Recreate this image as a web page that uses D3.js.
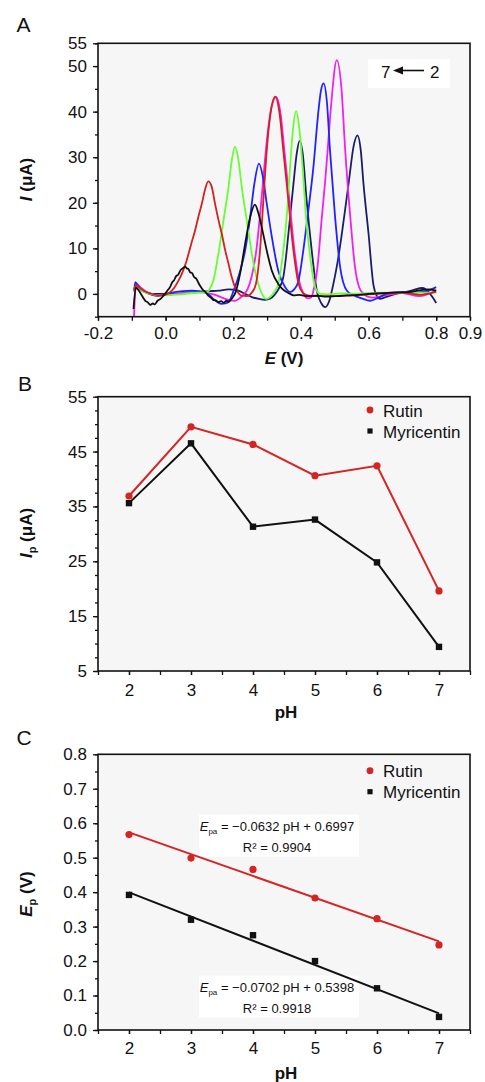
<!DOCTYPE html>
<html>
<head>
<meta charset="utf-8">
<script src="https://cdn.jsdelivr.net/npm/d3@7"></script>
<style>
  html, body { margin: 0; padding: 0; background: #fff; }
  svg { display: block; font-family: "Liberation Sans", Arial, sans-serif; }
</style>
</head>
<body>
<svg id="chart" width="485" height="1082"></svg>
<script>
'use strict';

/* global d3 */

// ---- data ----

// panel A: potential (V) / current (uA) curves, one per pH
var curvePH7 = [[-0.095,-3.3],[-0.088,1.4],[-0.08,0.8],[-0.07,-0.4],[-0.06,-1.5],[-0.052,-1.9],[-0.046,-2.4],[-0.038,-2.1],[-0.032,-2.3],[-0.024,-1.5],[-0.015,-1.1],[-0.008,-0.5],[-0.002,0.0],[0.007,0.9],[0.013,1.5],[0.02,2.6],[0.025,3.0],[0.031,3.9],[0.037,4.2],[0.045,5.3],[0.052,5.7],[0.057,6.0],[0.063,5.6],[0.068,5.4],[0.073,4.7],[0.078,4.6],[0.084,3.7],[0.09,3.4],[0.1,2.0],[0.11,0.9],[0.118,0.4],[0.126,-0.4],[0.134,-0.8],[0.14,-1.3],[0.148,-1.4],[0.156,-1.8],[0.164,-1.6],[0.172,-1.9],[0.18,-1.5],[0.186,-1.7],[0.197,-0.9],[0.207,0.4],[0.22,4.4],[0.235,11.0],[0.25,16.9],[0.264,19.6],[0.274,17.8],[0.284,14.7],[0.299,9.5],[0.314,5.1],[0.333,2.2],[0.345,1.1],[0.358,0.4],[0.368,0.0],[0.378,-0.3],[0.395,-0.2],[0.42,-0.5],[0.445,-0.4],[0.47,-0.6],[0.52,-0.4],[0.57,-0.2],[0.62,0.1],[0.67,0.3],[0.72,0.4],[0.75,0.8],[0.775,1.0],[0.8,0.7]];
var curvePH6 = [[-0.093,0.8],[-0.088,1.9],[-0.08,1.5],[-0.065,0.7],[-0.045,0.1],[-0.02,-0.3],[-0.002,-0.2],[0.013,0.4],[0.025,1.3],[0.038,2.9],[0.05,4.8],[0.062,7.3],[0.075,10.8],[0.087,13.9],[0.097,17.0],[0.107,19.8],[0.117,23.0],[0.126,24.7],[0.136,23.6],[0.146,19.8],[0.156,16.3],[0.166,13.2],[0.176,9.6],[0.186,6.6],[0.195,3.8],[0.205,1.5],[0.215,0.2],[0.225,-0.4],[0.24,-0.5],[0.255,0.3],[0.267,2.2],[0.279,9.5],[0.289,20.5],[0.299,31.5],[0.31,39.5],[0.324,43.3],[0.337,39.5],[0.348,31.5],[0.363,20.5],[0.378,9.5],[0.393,2.2],[0.405,0.3],[0.42,-0.3],[0.45,-0.5],[0.5,-0.5],[0.55,-0.3],[0.6,-0.1],[0.65,0.1],[0.7,0.3],[0.75,-0.2],[0.8,0.5]];
var curvePH5 = [[-0.093,0.6],[-0.088,1.7],[-0.08,1.3],[-0.065,0.5],[-0.045,0.0],[-0.02,-0.3],[0.0,-0.3],[0.04,-0.1],[0.08,0.2],[0.105,0.3],[0.122,0.4],[0.132,1.3],[0.141,2.9],[0.156,8.8],[0.171,16.1],[0.186,23.5],[0.196,29.5],[0.205,32.3],[0.215,29.5],[0.225,23.5],[0.24,16.1],[0.255,8.8],[0.265,4.8],[0.274,2.2],[0.285,0.0],[0.297,-1.1],[0.31,-0.6],[0.322,0.5],[0.333,2.2],[0.348,9.5],[0.358,16.9],[0.368,27.9],[0.377,36.5],[0.386,40.1],[0.395,36.5],[0.405,27.9],[0.415,16.9],[0.427,8.4],[0.442,1.5],[0.457,0.0],[0.48,-0.1],[0.52,0.1],[0.56,0.0],[0.6,0.2],[0.65,0.3],[0.7,0.2],[0.75,0.3],[0.8,0.3]];
var curvePH4 = [[-0.093,0.5],[-0.09,2.6],[-0.08,1.6],[-0.06,0.4],[-0.04,-0.2],[-0.022,-0.4],[0.0,0.0],[0.027,0.4],[0.05,0.6],[0.077,0.7],[0.1,0.6],[0.116,0.4],[0.13,-0.3],[0.141,-1.1],[0.155,-1.9],[0.166,-2.2],[0.176,-2.1],[0.186,-1.8],[0.195,-0.5],[0.2,0.5],[0.212,3.0],[0.224,6.0],[0.235,9.5],[0.25,16.9],[0.262,24.0],[0.276,28.6],[0.288,25.5],[0.299,19.8],[0.314,12.5],[0.333,5.1],[0.353,1.5],[0.368,0.4],[0.38,1.0],[0.393,2.9],[0.407,9.5],[0.422,18.3],[0.437,27.9],[0.452,40.3],[0.459,44.5],[0.467,46.2],[0.477,42.0],[0.486,31.5],[0.501,16.9],[0.516,5.9],[0.536,0.7],[0.556,-0.3],[0.58,-1.0],[0.605,-1.5],[0.63,-0.8],[0.66,0.2],[0.7,0.4],[0.74,0.3],[0.77,0.6],[0.8,1.5]];
var curvePH3 = [[-0.094,-6.0],[-0.09,0.5],[-0.086,2.2],[-0.075,1.5],[-0.06,0.6],[-0.04,-0.1],[-0.022,-0.4],[0.0,-0.2],[0.027,0.0],[0.06,0.3],[0.097,0.4],[0.136,0.0],[0.16,-0.6],[0.176,-1.1],[0.19,-1.4],[0.205,-1.5],[0.218,-1.0],[0.23,-0.2],[0.242,1.0],[0.255,4.0],[0.268,9.5],[0.28,18.0],[0.292,28.0],[0.302,35.5],[0.313,41.0],[0.327,43.2],[0.34,39.5],[0.351,31.5],[0.366,20.5],[0.381,9.5],[0.395,2.8],[0.408,0.0],[0.42,-1.0],[0.43,-0.8],[0.437,0.7],[0.449,5.9],[0.462,16.9],[0.472,25.0],[0.479,31.5],[0.49,42.0],[0.506,51.3],[0.52,45.0],[0.531,31.5],[0.546,16.9],[0.56,5.9],[0.572,1.5],[0.585,0.0],[0.61,-0.8],[0.65,-0.3],[0.7,0.2],[0.75,-0.5],[0.8,0.8]];
var curvePH2 = [[-0.093,0.6],[-0.09,1.8],[-0.08,1.2],[-0.06,0.4],[-0.04,0.0],[0.0,0.0],[0.027,0.0],[0.06,0.2],[0.097,0.4],[0.13,0.6],[0.156,0.7],[0.186,1.0],[0.215,0.7],[0.235,0.0],[0.255,-0.7],[0.276,-1.1],[0.294,-1.3],[0.31,-1.0],[0.322,-0.2],[0.335,1.2],[0.348,3.7],[0.355,7.5],[0.363,13.2],[0.378,24.2],[0.388,31.0],[0.396,33.6],[0.405,31.0],[0.417,20.5],[0.432,9.5],[0.447,0.7],[0.46,-2.0],[0.472,-2.9],[0.484,-1.5],[0.496,2.2],[0.508,6.8],[0.521,13.2],[0.541,24.2],[0.556,32.5],[0.567,34.8],[0.577,31.5],[0.585,24.2],[0.6,13.2],[0.614,2.2],[0.625,-0.5],[0.634,-1.1],[0.65,-0.7],[0.68,0.0],[0.71,0.4],[0.73,0.8],[0.76,1.3],[0.775,0.6],[0.79,-0.8],[0.8,-2.0]];

var potentialTickLabels = [-0.2, 0.0, 0.2, 0.4, 0.6, 0.8, 0.9];
var currentTickLabels = [0, 10, 20, 30, 40, 50, 55];
var arrowLabels = ['7', '2'];

// panels B and C
var phValues = [2, 3, 4, 5, 6, 7];
var seriesNames = ['Rutin', 'Myricentin'];
var rutinIp = [36.9, 49.5, 46.3, 40.6, 42.4, 19.6];
var myricentinIp = [35.6, 46.5, 31.3, 32.6, 24.8, 9.4];
var rutinEp = [0.567, 0.499, 0.466, 0.383, 0.323, 0.247];
var myricentinEp = [0.392, 0.320, 0.275, 0.200, 0.121, 0.038];
var fitSlopes = [-0.0632, -0.0702];
var fitIntercepts = [0.6997, 0.5398];
var fitR2 = [0.9904, 0.9918];

var ipTickLabels = [5, 15, 25, 35, 45, 55];
var epTickLabels = [0, 0.1, 0.2, 0.3, 0.4, 0.5, 0.6, 0.7, 0.8];

// ---- drawing ----

var svg = d3.select('#chart');
var RED = '#d42424';
var curves = [
  {data: curvePH2, color: '#1c1c6a'},
  {data: curvePH3, color: '#ee22ee'},
  {data: curvePH4, color: '#2222ff'},
  {data: curvePH5, color: '#66ff33'},
  {data: curvePH6, color: '#d42020'},
  {data: curvePH7, color: '#111111'}
];

function range(a, b, step) {
  var out = [];
  for (var i = 0; a + i * step <= b + 1e-9; i++) { out.push(+(a + i * step).toFixed(4)); }
  return out;
}

function styleText(sel) {
  sel.selectAll('text')
    .attr('font-family', '"Liberation Sans", Arial, sans-serif')
    .attr('font-size', 17)
    .attr('fill', '#111');
  sel.selectAll('line').attr('stroke', '#111').attr('stroke-width', 1.3);
  sel.select('.domain').remove();
}

// background + ticks
function drawFrame(x, y, o) {
  var g = svg.append('g');
  var x0 = x.range()[0], x1 = x.range()[1], yb = y.range()[0], yt = y.range()[1];

  g.append('rect')
    .attr('x', x0).attr('y', yt).attr('width', x1 - x0).attr('height', yb - yt)
    .attr('fill', '#f6f6f6');

  g.append('g').attr('transform', 'translate(' + x0 + ',0)')
    .call(d3.axisLeft(y).tickValues(o.yMinor).tickSize(3).tickFormat(''))
    .call(styleText);
  g.append('g').attr('transform', 'translate(' + x0 + ',0)')
    .call(d3.axisLeft(y).tickValues(o.yMajor).tickSize(5).tickPadding(6).tickFormat(o.yFormat))
    .call(styleText);
  g.append('g').attr('transform', 'translate(0,' + yb + ')')
    .call(d3.axisBottom(x).tickValues(o.xMinor).tickSize(4).tickFormat(''))
    .call(styleText);
  g.append('g').attr('transform', 'translate(0,' + yb + ')')
    .call(d3.axisBottom(x).tickValues(o.xMajor).tickSize(4).tickPadding(o.xPad).tickFormat(o.xFormat))
    .call(styleText);

  return g;
}

function closeFrame(x, y) {
  var x0 = x.range()[0], x1 = x.range()[1], yb = y.range()[0], yt = y.range()[1];
  svg.append('rect')
    .attr('x', x0).attr('y', yt).attr('width', x1 - x0).attr('height', yb - yt)
    .attr('fill', 'none').attr('stroke', '#111').attr('stroke-width', 1.6);
}

function panelLetter(txt, px, py) {
  svg.append('text').attr('x', px).attr('y', py)
    .attr('font-size', 21).attr('fill', '#111').text(txt);
}

function yTitle(cx, cy, main, sub, rest) {
  var t = svg.append('text')
    .attr('transform', 'translate(' + cx + ',' + cy + ') rotate(-90)')
    .attr('text-anchor', 'middle')
    .attr('font-size', 17).attr('font-weight', 'bold').attr('fill', '#111');
  t.append('tspan').attr('font-style', 'italic').text(main);
  if (sub) {
    t.append('tspan').attr('font-size', 11).attr('dy', 4).text(sub);
    t.append('tspan').attr('dy', -4).text(rest);
  } else {
    t.append('tspan').text(rest);
  }
}

function xTitle(cx, cy, italicPart, rest) {
  var t = svg.append('text').attr('x', cx).attr('y', cy)
    .attr('text-anchor', 'middle')
    .attr('font-size', 17).attr('font-weight', 'bold').attr('fill', '#111');
  if (italicPart) { t.append('tspan').attr('font-style', 'italic').text(italicPart); }
  t.append('tspan').text(rest);
}

function legend(lx, ly) {
  var g = svg.append('g');
  g.append('circle').attr('cx', lx).attr('cy', ly).attr('r', 3.4).attr('fill', RED);
  g.append('rect').attr('x', lx - 2.6).attr('y', ly + 21 - 2.6).attr('width', 5.2).attr('height', 5.2).attr('fill', '#111');
  g.append('text').attr('x', lx + 13).attr('y', ly + 6.5).attr('font-size', 17).attr('fill', '#111').text(seriesNames[0]);
  g.append('text').attr('x', lx + 13).attr('y', ly + 27.5).attr('font-size', 17).attr('fill', '#111').text(seriesNames[1]);
}

var fmt1 = function(d) { return d.toFixed(1); };
var fmt0 = function(d) { return String(d); };

// ===== Panel A =====
var xA = d3.scaleLinear().domain([-0.2, 0.9]).range([98, 470]);
var yA = d3.scaleLinear().domain([-5, 55]).range([316.7, 43.3]);

drawFrame(xA, yA, {
  yMinor: range(-5, 55, 5), yMajor: currentTickLabels, yFormat: fmt0,
  xMinor: range(-0.2, 0.9, 0.1), xMajor: potentialTickLabels, xFormat: fmt1, xPad: 6
});

svg.append('clipPath').attr('id', 'clipA').append('rect')
  .attr('x', 98).attr('y', 43.3).attr('width', 372).attr('height', 273.4);

var lineA = d3.line()
  .x(function(d) { return xA(d[0]); })
  .y(function(d) { return yA(d[1]); })
  .curve(d3.curveMonotoneX);

svg.append('g').attr('clip-path', 'url(#clipA)')
  .selectAll('path').data(curves).enter().append('path')
  .attr('d', function(c) { return lineA(c.data); })
  .attr('fill', 'none')
  .attr('stroke', function(c) { return c.color; })
  .attr('stroke-width', 1.8)
  .attr('stroke-linejoin', 'round');

// 7 <- 2 note
var noteG = svg.append('g');
noteG.append('rect').attr('x', 368).attr('y', 59).attr('width', 82).attr('height', 29).attr('fill', '#fff');
noteG.append('text').attr('x', 381).attr('y', 77.5).attr('font-size', 17).attr('fill', '#111').text(arrowLabels[0]);
noteG.append('text').attr('x', 430).attr('y', 77.5).attr('font-size', 17).attr('fill', '#111').text(arrowLabels[1]);
noteG.append('line').attr('x1', 424).attr('y1', 70.5).attr('x2', 400).attr('y2', 70.5)
  .attr('stroke', '#111').attr('stroke-width', 1.6);
noteG.append('path').attr('d', 'M393,70.5 L403,66.5 L403,74.5 Z').attr('fill', '#111');

closeFrame(xA, yA);
panelLetter('A', 16.5, 32.3);
yTitle(32, 179.5, 'I', null, ' (\u03bcA)');
xTitle(284, 364, 'E', ' (V)');

// ===== Panel B =====
var xB = d3.scaleLinear().domain([1.5, 7.5]).range([98, 470]);
var yB = d3.scaleLinear().domain([5, 55]).range([671, 396.7]);

drawFrame(xB, yB, {
  yMinor: range(5, 55, 2.5), yMajor: ipTickLabels, yFormat: fmt0,
  xMinor: range(1.5, 7.5, 0.5), xMajor: phValues, xFormat: fmt0, xPad: 9
});

var lineB = d3.line()
  .x(function(d) { return xB(d[0]); })
  .y(function(d) { return yB(d[1]); });

var rutinB = phValues.map(function(p, i) { return [p, rutinIp[i]]; });
var myrB = phValues.map(function(p, i) { return [p, myricentinIp[i]]; });

svg.append('path').attr('d', lineB(rutinB)).attr('fill', 'none').attr('stroke', RED).attr('stroke-width', 2);
svg.append('path').attr('d', lineB(myrB)).attr('fill', 'none').attr('stroke', '#111').attr('stroke-width', 2);
svg.append('g').selectAll('circle').data(rutinB).enter().append('circle')
  .attr('cx', function(d) { return xB(d[0]); }).attr('cy', function(d) { return yB(d[1]); })
  .attr('r', 3.6).attr('fill', RED);
svg.append('g').selectAll('rect').data(myrB).enter().append('rect')
  .attr('x', function(d) { return xB(d[0]) - 3.2; }).attr('y', function(d) { return yB(d[1]) - 3.2; })
  .attr('width', 6.4).attr('height', 6.4).attr('fill', '#111');

legend(370, 410);
closeFrame(xB, yB);
panelLetter('B', 18, 390.7);
yTitle(32, 533, 'I', 'p', ' (\u03bcA)');
xTitle(286, 718, null, 'pH');

// ===== Panel C =====
var xC = d3.scaleLinear().domain([1.5, 7.5]).range([98, 470]);
var yC = d3.scaleLinear().domain([0, 0.8]).range([1030, 754.3]);

drawFrame(xC, yC, {
  yMinor: range(0, 0.8, 0.05), yMajor: epTickLabels, yFormat: fmt1,
  xMinor: range(1.5, 7.5, 0.5), xMajor: phValues, xFormat: fmt0, xPad: 7.5
});

// equation boxes
var eqPos = [[277, 830.7], [277, 991.7]];
eqPos.forEach(function(p) {
  svg.append('rect').attr('x', p[0] - 78).attr('y', p[1] - 16).attr('width', 160).attr('height', 42).attr('fill', '#fff');
});

var lineC = d3.line()
  .x(function(d) { return xC(d[0]); })
  .y(function(d) { return yC(d[1]); });

[0, 1].forEach(function(i) {
  var ph0 = phValues[0], ph1 = phValues[phValues.length - 1];
  var fit = [[ph0, fitSlopes[i] * ph0 + fitIntercepts[i]], [ph1, fitSlopes[i] * ph1 + fitIntercepts[i]]];
  svg.append('path').attr('d', lineC(fit)).attr('fill', 'none')
    .attr('stroke', i === 0 ? RED : '#111').attr('stroke-width', 2);
});

var rutinC = phValues.map(function(p, i) { return [p, rutinEp[i]]; });
var myrC = phValues.map(function(p, i) { return [p, myricentinEp[i]]; });
svg.append('g').selectAll('circle').data(rutinC).enter().append('circle')
  .attr('cx', function(d) { return xC(d[0]); }).attr('cy', function(d) { return yC(d[1]); })
  .attr('r', 3.6).attr('fill', RED);
svg.append('g').selectAll('rect').data(myrC).enter().append('rect')
  .attr('x', function(d) { return xC(d[0]) - 3.2; }).attr('y', function(d) { return yC(d[1]) - 3.2; })
  .attr('width', 6.4).attr('height', 6.4).attr('fill', '#111');

eqPos.forEach(function(p, i) {
  var t = svg.append('text').attr('x', p[0]).attr('y', p[1])
    .attr('text-anchor', 'middle').attr('font-size', 13).attr('fill', '#111');
  t.append('tspan').attr('font-style', 'italic').text('E');
  t.append('tspan').attr('font-size', 8).attr('dy', 3).text('pa');
  t.append('tspan').attr('dy', -3)
    .text(' = \u2212' + Math.abs(fitSlopes[i]).toFixed(4) + ' pH + ' + fitIntercepts[i].toFixed(4));
  svg.append('text').attr('x', p[0]).attr('y', p[1] + 21)
    .attr('text-anchor', 'middle').attr('font-size', 13).attr('fill', '#111')
    .text('R\u00b2 = ' + fitR2[i].toFixed(4));
});

legend(370, 770.7);
closeFrame(xC, yC);
panelLetter('C', 16.5, 745);
yTitle(32, 894, 'E', 'p', ' (V)');
xTitle(286, 1079, null, 'pH');
</script>
</body>
</html>
